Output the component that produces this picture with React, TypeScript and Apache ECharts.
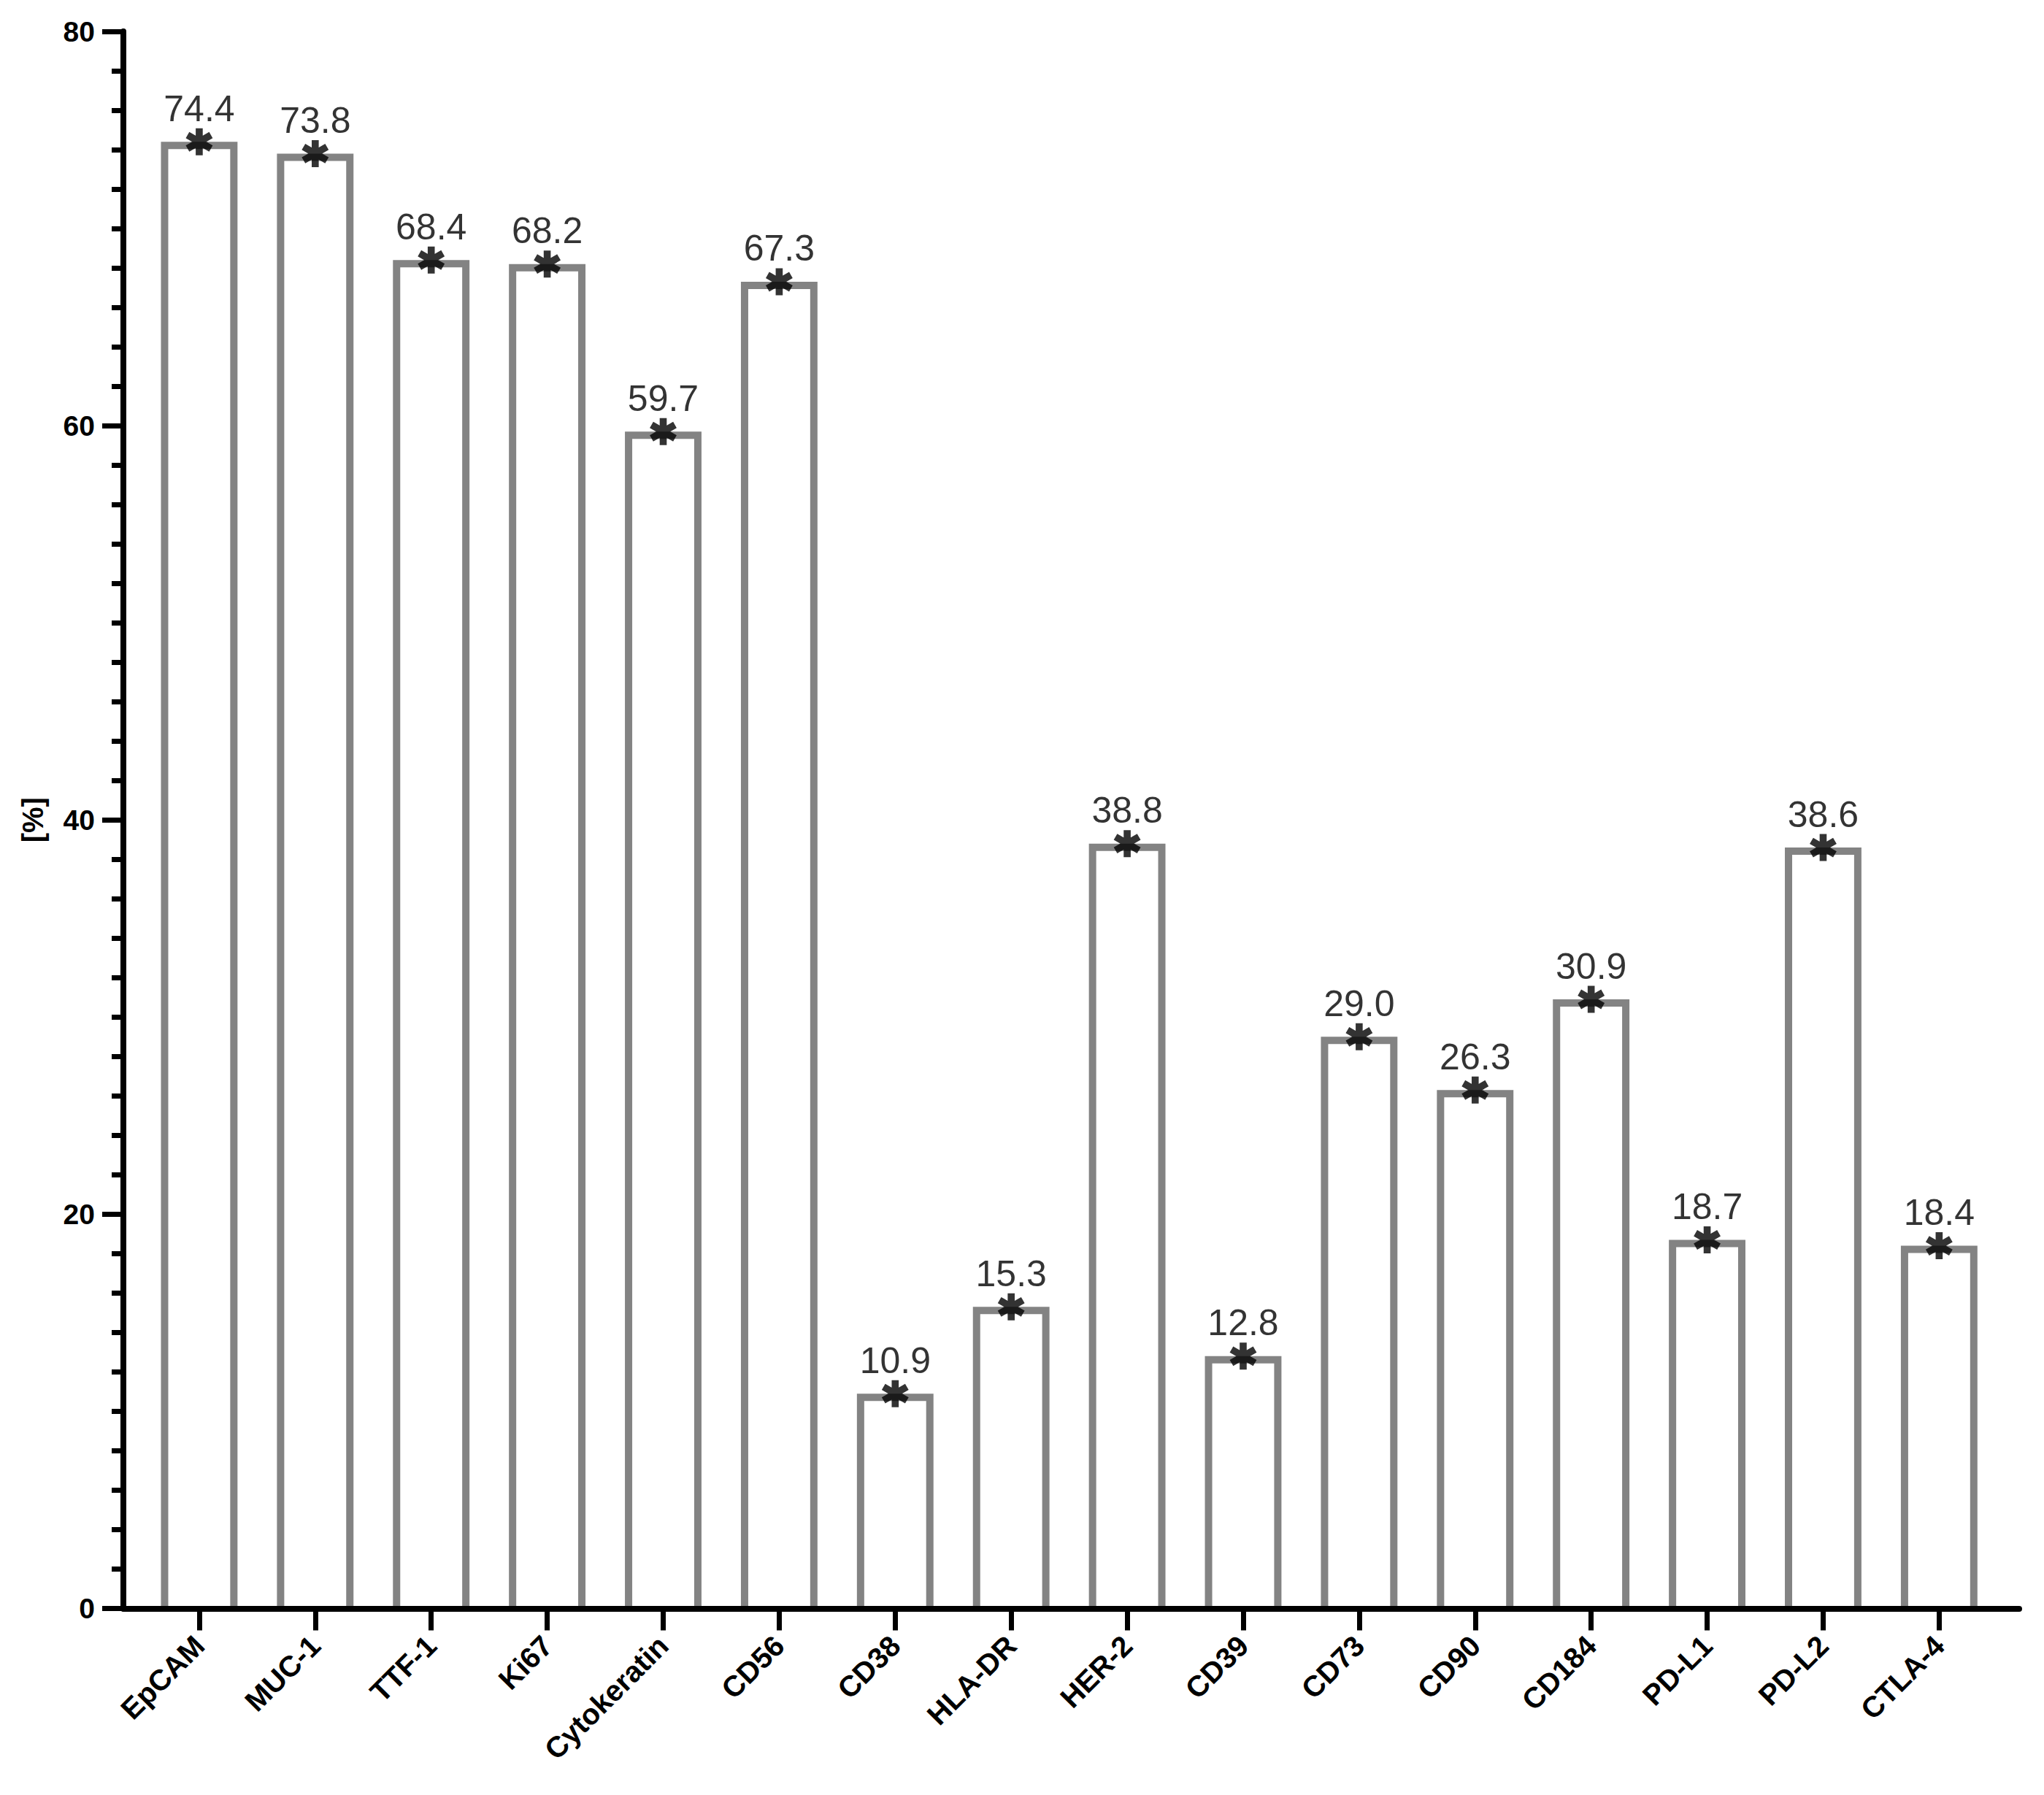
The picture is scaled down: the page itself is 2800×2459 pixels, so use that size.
import React, { useEffect, useRef } from "react";
import * as echarts from "echarts";

const categories = [
  "EpCAM", "MUC-1", "TTF-1", "Ki67", "Cytokeratin", "CD56", "CD38", "HLA-DR",
  "HER-2", "CD39", "CD73", "CD90", "CD184", "PD-L1", "PD-L2", "CTLA-4",
];
const values = [74.4, 73.8, 68.4, 68.2, 59.7, 67.3, 10.9, 15.3, 38.8, 12.8, 29.0, 26.3, 30.9, 18.7, 38.6, 18.4];
const yTicks = [0, 20, 40, 60, 80];
const yAxisName = "[%]";

const FONT = "'Liberation Sans', Arial, sans-serif";
const ASTERISK =
  "path://M-13,-50L13,-50L13,50L-13,50Z" +
  "M-36.8,-36.26L49.8,13.74L36.8,36.26L-49.8,-13.74Z" +
  "M49.8,-13.74L-36.8,36.26L-49.8,13.74L36.8,-36.26Z";

export default function App() {
  const ref = useRef<HTMLDivElement>(null);
  useEffect(() => {
    if (!ref.current) return;
    const chart = echarts.init(ref.current, null, { renderer: "svg" });
    const data = values.map((v, i) => [i, v]);
    const idx = categories.map((_, i) => i);
    const BAR_HALF = 0.33; // in category units (outer half width)
    const STROKE = 10;
    chart.setOption({
      animation: false,
      backgroundColor: "#ffffff",
      grid: { left: 169, right: 34, top: 43, bottom: 255.5, containLabel: false },
      xAxis: {
        type: "value",
        min: -0.654,
        max: 15.69,
        z: 10,
        splitLine: { show: false },
        axisLine: { show: true, onZero: false, lineStyle: { color: "#000", width: 8 } },
        axisTick: { show: true, customValues: idx, length: 30, lineStyle: { color: "#000", width: 7 } },
        axisLabel: {
          customValues: idx,
          rotate: 45,
          margin: 44,
          fontFamily: FONT,
          fontWeight: "bold",
          fontSize: 40,
          color: "#000",
          formatter: (val: number) => categories[Math.round(val)] ?? "",
        },
      },
      yAxis: {
        type: "value",
        min: 0,
        max: 80,
        interval: 20,
        z: 10,
        name: yAxisName,
        nameLocation: "middle",
        nameGap: 104,
        nameRotate: 90,
        nameTextStyle: { fontFamily: FONT, fontWeight: "bold", fontSize: 40, color: "#000" },
        splitLine: { show: false },
        axisLine: { show: true, onZero: false, lineStyle: { color: "#000", width: 8 } },
        axisTick: { show: true, length: 29, lineStyle: { color: "#000", width: 7 } },
        minorTick: { show: true, splitNumber: 10, length: 16, lineStyle: { color: "#000", width: 7 } },
        axisLabel: {
          margin: 39,
          fontFamily: FONT,
          fontWeight: "bold",
          fontSize: 39,
          color: "#000",
        },
      },
      series: [
        {
          type: "custom",
          z: 2,
          data,
          encode: { x: 0, y: 1 },
          renderItem: (params: any, api: any) => {
            const x = api.value(0);
            const v = api.value(1);
            const top = api.coord([x, v]);
            const bot = api.coord([x, 0]);
            const unit = api.size([1, 0])[0];
            const half = unit * BAR_HALF;
            const left = top[0] - half + STROKE / 2;
            const right = top[0] + half - STROKE / 2;
            const ty = top[1] + STROKE / 2;
            return {
              type: "group",
              children: [
                {
                  type: "rect",
                  shape: { x: left, y: ty, width: right - left, height: bot[1] - ty },
                  style: { fill: "#ffffff" },
                },
                {
                  type: "polyline",
                  shape: { points: [[left, bot[1]], [left, ty], [right, ty], [right, bot[1]]] },
                  style: { fill: null, stroke: "#838383", lineWidth: STROKE, lineJoin: "miter" },
                },
              ],
            };
          },
        },
        {
          type: "scatter",
          z: 12,
          data,
          symbol: ASTERISK,
          symbolSize: 37,
          symbolKeepAspect: true,
          itemStyle: { color: "#000" },
          label: {
            show: true,
            position: "top",
            distance: 2,
            fontFamily: FONT,
            fontSize: 50,
            color: "#000",
            formatter: (p: any) => Number(p.value[1]).toFixed(1),
          },
        },
      ],
    });
    return () => chart.dispose();
  }, []);
  return (
    <div
      ref={ref}
      style={{ position: "absolute", left: 0, top: 0, width: 2800, height: 2459, background: "#fff" }}
    />
  );
}
